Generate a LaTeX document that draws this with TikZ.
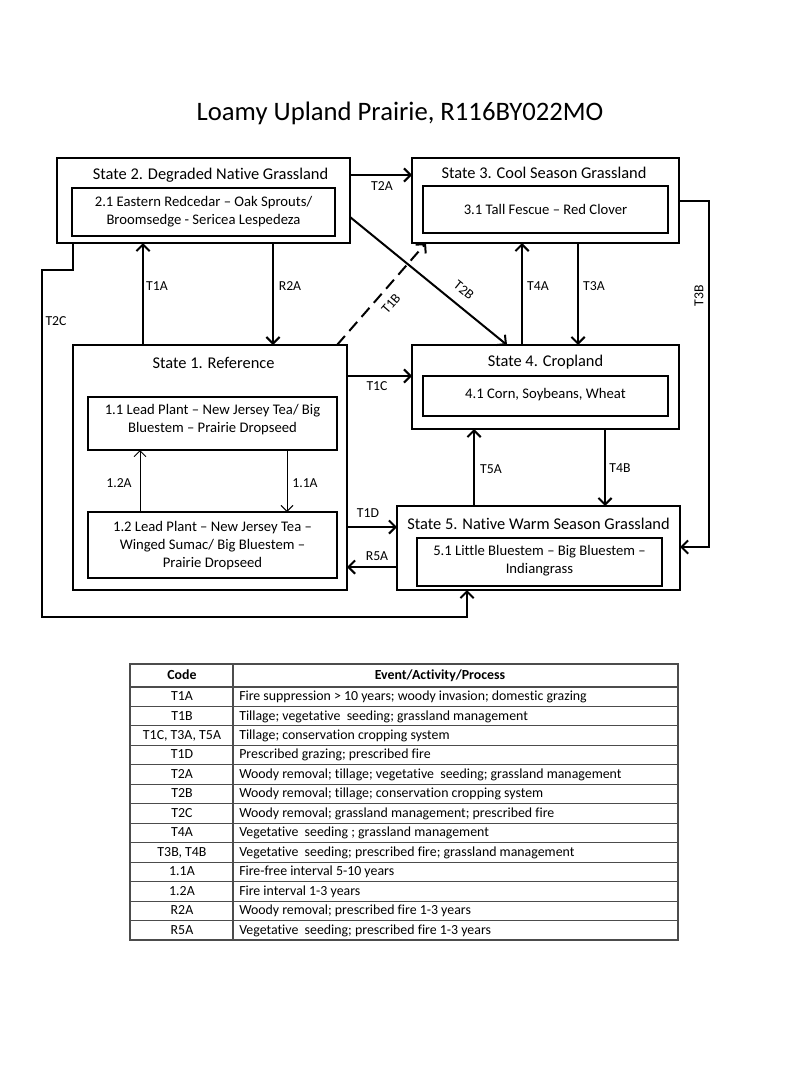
\documentclass[tikz,border=0pt]{standalone}
\usepackage{fontspec}
\setmainfont[Ligatures=NoCommon]{Carlito}
\usetikzlibrary{arrows.meta}
\begin{document}
\begin{tikzpicture}[x=0.75pt,y=-0.75pt,
  outerbox/.style={draw, line width=1.5pt, inner sep=0pt, outer sep=0pt},
  innerbox/.style={draw, line width=0.8pt, inner sep=0pt, outer sep=0pt},
  stitle/.style={font=\fontsize{12.3}{14}\selectfont},
  itext/.style={font=\fontsize{11}{13.5}\selectfont, align=center},
  lab/.style={font=\fontsize{10.3}{12}\selectfont, inner sep=1pt},
  arr/.style={line width=1.5pt, -{Straight Barb[length=5pt,width=10pt,line width=1.5pt]}},
  thinarr/.style={line width=0.7pt, -{Straight Barb[length=4.5pt,width=9pt,line width=0.7pt]}},
  tbl/.style={draw=black!70, line width=0.8pt},
  tc/.style={font=\fontsize{10.4}{12}\selectfont, text height=1.55ex, text depth=0.35ex, inner sep=0pt},
]
\useasboundingbox[fill=white] (0,0) rectangle (800,1067);

% title
\node[font=\fontsize{20}{24}\selectfont] (title) at (400,113) {Loamy Upland Prairie, R116BY022MO};

% boxes
\node[outerbox, minimum width=219.75pt, minimum height=63.75pt] (S2) at (203.5,200.5) {};
\node[innerbox, minimum width=197.25pt, minimum height=36pt] (S2i) at (203.5,212) {};
\node[stitle] (S2t) at (210.5,175) {State 2. Degraded Native Grassland};
\node[itext] (S2x) at (203.5,212) {2.1 Eastern Redcedar – Oak Sprouts/\\Broomsedge - Sericea Lespedeza};

\node[outerbox, minimum width=200.25pt, minimum height=63.75pt] (S3) at (545.5,200.5) {};
\node[innerbox, minimum width=183.75pt, minimum height=35.25pt] (S3i) at (545.5,209.5) {};
\node[stitle] (S3t) at (544,173) {State 3. Cool Season Grassland};
\node[itext] (S3x) at (545.5,209.5) {3.1 Tall Fescue – Red Clover};

\node[outerbox, minimum width=205.5pt, minimum height=183.75pt] (S1) at (210,467.5) {};
\node[innerbox, minimum width=186.75pt, minimum height=39.75pt] (n11) at (212.5,423.5) {};
\node[innerbox, minimum width=186.75pt, minimum height=49.5pt] (n12) at (212.5,545) {};
\node[stitle] (S1t) at (213.5,363) {State 1. Reference};
\node[itext] (n11x) at (212.5,419.5) {1.1 Lead Plant – New Jersey Tea/ Big\\Bluestem – Prairie Dropseed};
\node[itext] (n12x) at (212.5,545.5) {1.2 Lead Plant – New Jersey Tea –\\Winged Sumac/ Big Bluestem –\\Prairie Dropseed};

\node[outerbox, minimum width=200.25pt, minimum height=63pt] (S4) at (545.5,387) {};
\node[innerbox, minimum width=183.75pt, minimum height=30pt] (n41) at (545.5,396) {};
\node[stitle] (S4t) at (545.5,362) {State 4. Cropland};
\node[itext] (n41x) at (545.5,395) {4.1 Corn, Soybeans, Wheat};

\node[outerbox, minimum width=212.25pt, minimum height=63pt] (S5) at (538.5,548) {};
\node[innerbox, minimum width=183.75pt, minimum height=36pt] (n51) at (539.5,562) {};
\node[stitle] (S5t) at (538.5,523.5) {State 5. Native Warm Season Grassland};
\node[itext] (n51x) at (539.5,561) {5.1 Little Bluestem – Big Bluestem –\\Indiangrass};

% connectors
\draw[arr] (S2.east |- 0,175) -- (S3.west |- 0,175);
\draw[arr] (S2.east |- 0,217) -- (S4.north -| 507,0);
\draw[arr, dashed, dash pattern=on 9pt off 5pt] (S1.north -| 337,0) -- (S3.south -| 426,0);
\draw[arr] (S1.north -| 143,0) -- (S2.south -| 143,0);
\draw[arr] (S2.south -| 273,0) -- (S1.north -| 273,0);
\draw[arr] (S2.south -| 73,0) -- (73,270) -- (42,270) -- (42,617) -- (467,617) -- (S5.south -| 467,0);
\draw[arr] (S4.north -| 522,0) -- (S3.south -| 522,0);
\draw[arr] (S3.south -| 578,0) -- (S4.north -| 578,0);
\draw[arr] (S3.east |- 0,201) -- (709,201) -- (709,547) -- (S5.east |- 0,547);
\draw[arr] (S1.east |- 0,376) -- (S4.west |- 0,376);
\draw[arr] (S1.east |- 0,527) -- (S5.west |- 0,527);
\draw[arr] (S5.west |- 0,567) -- (S1.east |- 0,567);
\draw[arr] (S5.north -| 474,0) -- (S4.south -| 474,0);
\draw[arr] (S4.south -| 605,0) -- (S5.north -| 605,0);
\draw[thinarr] (n12.north -| 140,0) -- (n11.south -| 140,0);
\draw[thinarr] (n11.south -| 287,0) -- (n12.north -| 287,0);

% labels
\node[lab] (lT2A) at (382,186) {T2A};
\node[lab, rotate=-39] (lT2B) at (464,290) {T2B};
\node[lab, rotate=49] (lT1B) at (391,304) {T1B};
\node[lab] (lT1A) at (157,286) {T1A};
\node[lab] (lR2A) at (290,286) {R2A};
\node[lab] (lT2C) at (56,321) {T2C};
\node[lab] (lT4A) at (538,286) {T4A};
\node[lab] (lT3A) at (594,286) {T3A};
\node[lab, rotate=90] (lT3B) at (699,296) {T3B};
\node[lab] (lT1C) at (377,386) {T1C};
\node[lab] (lT1D) at (368,513) {T1D};
\node[lab] (lR5A) at (377,556) {R5A};
\node[lab] (lT5A) at (491,469) {T5A};
\node[lab] (lT4B) at (620,468) {T4B};
\node[lab] (l12A) at (119,483) {1.2A};
\node[lab] (l11A) at (305,483) {1.1A};

% table
\draw[tbl] (130,664) rectangle (678,940);
\draw[tbl] (233,664) -- (233,940);
\draw[tbl] (130,687) -- (678,687);
\foreach \i in {1,...,12} \draw[tbl] (130,687+19.46*\i) -- (678,687+19.46*\i);

\node[tc, font=\fontsize{10.4}{12}\selectfont\bfseries] (hc) at (182,675.5) {Code};
\node[tc, font=\fontsize{10.4}{12}\selectfont\bfseries] (hd) at (440,675.5) {Event/Activity/Process};

\node[tc] (c1) at (182,696.7) {T1A};
\node[tc] (c2) at (182,716.2) {T1B};
\node[tc] (c3) at (182,735.6) {T1C, T3A, T5A};
\node[tc] (c4) at (182,755.1) {T1D};
\node[tc] (c5) at (182,774.6) {T2A};
\node[tc] (c6) at (182,794.0) {T2B};
\node[tc] (c7) at (182,813.5) {T2C};
\node[tc] (c8) at (182,833.0) {T4A};
\node[tc] (c9) at (182,852.4) {T3B, T4B};
\node[tc] (c10) at (182,871.9) {1.1A};
\node[tc] (c11) at (182,891.4) {1.2A};
\node[tc] (c12) at (182,910.8) {R2A};
\node[tc] (c13) at (182,930.3) {R5A};

\node[tc, anchor=west] (d1) at (239,696.7) {Fire suppression > 10 years; woody invasion; domestic grazing};
\node[tc, anchor=west] (d2) at (239,716.2) {Tillage; vegetative\ \ seeding; grassland management};
\node[tc, anchor=west] (d3) at (239,735.6) {Tillage; conservation cropping system};
\node[tc, anchor=west] (d4) at (239,755.1) {Prescribed grazing; prescribed fire};
\node[tc, anchor=west] (d5) at (239,774.6) {Woody removal; tillage; vegetative\ \ seeding; grassland management};
\node[tc, anchor=west] (d6) at (239,794.0) {Woody removal; tillage; conservation cropping system};
\node[tc, anchor=west] (d7) at (239,813.5) {Woody removal; grassland management; prescribed fire};
\node[tc, anchor=west] (d8) at (239,833.0) {Vegetative\ \ seeding ; grassland management};
\node[tc, anchor=west] (d9) at (239,852.4) {Vegetative\ \ seeding; prescribed fire; grassland management};
\node[tc, anchor=west] (d10) at (239,871.9) {Fire-free interval 5-10 years};
\node[tc, anchor=west] (d11) at (239,891.4) {Fire interval 1-3 years};
\node[tc, anchor=west] (d12) at (239,910.8) {Woody removal; prescribed fire 1-3 years};
\node[tc, anchor=west] (d13) at (239,930.3) {Vegetative\ \ seeding; prescribed fire 1-3 years};
\end{tikzpicture}
\end{document}
